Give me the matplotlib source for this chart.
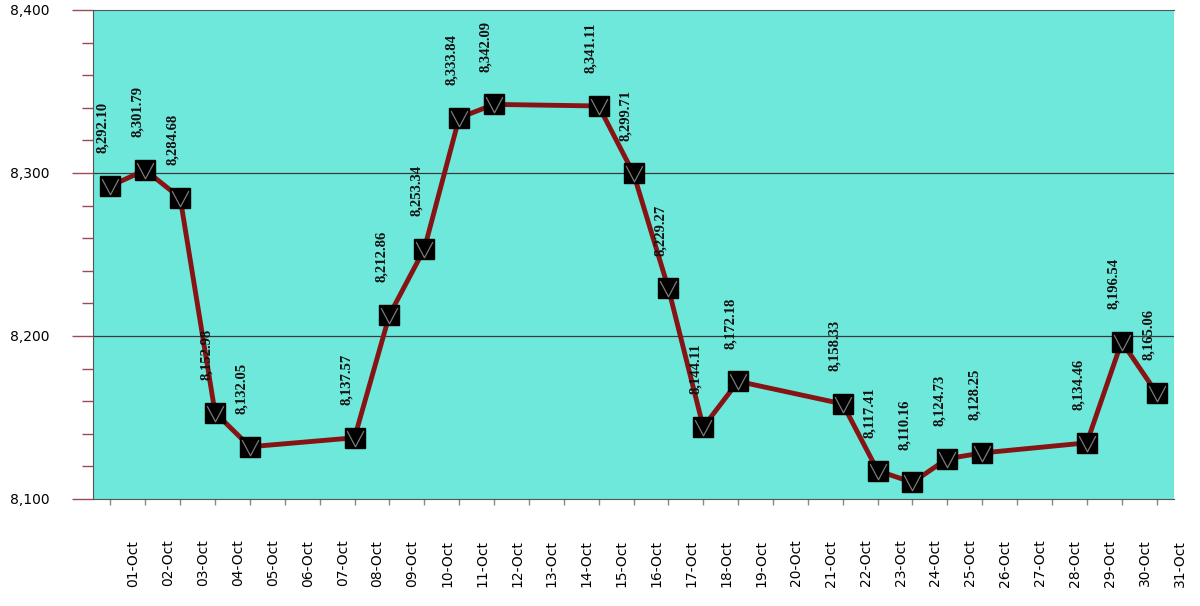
import numpy as np
import matplotlib.pyplot as plt
from matplotlib.path import Path
from matplotlib.transforms import ScaledTranslation
from matplotlib.ticker import MultipleLocator, FuncFormatter

# trading days in October and closing values
days = [1, 2, 3, 4, 5, 8, 9, 10, 11, 12, 15, 16, 17, 18, 19,
        22, 23, 24, 25, 26, 29, 30, 31]
values = [8292.10, 8301.79, 8284.68, 8152.98, 8132.05,
          8137.57, 8212.86, 8253.34, 8333.84, 8342.09,
          8341.11, 8299.71, 8229.27, 8144.11, 8172.18,
          8158.33, 8117.41, 8110.16, 8124.73, 8128.25,
          8134.46, 8196.54, 8165.06]
tick_days = list(range(1, 32))
tick_labels = ['%02d-Oct' % d for d in tick_days]

fig = plt.figure(figsize=(12.0, 6.06), dpi=100)
ax = fig.add_axes([93 / 1200, 1 - 499 / 606, (1174 - 93) / 1200, (499 - 10) / 606])
ax.set_facecolor('#6ee8da')

ax.set_xlim(0.5, 31.5)
ax.set_ylim(8100, 8400)

# horizontal grid lines
for yv in [8200, 8300]:
    ax.axhline(yv, color='#3a3a3a', lw=0.9, zorder=1)

ax.plot(days, values, color='#861414', lw=3.5, zorder=2)
ax.plot(days, values, ls='none', marker='s', markersize=14.8,
        markerfacecolor='black', markeredgecolor='black', zorder=3)
vmark = Path([(-0.36, 0.32), (0, -0.36), (0.36, 0.32)],
             [Path.MOVETO, Path.LINETO, Path.LINETO])
ax.plot(days, values, ls='none', marker=vmark, markersize=12,
        markerfacecolor='none', markeredgecolor='#7a7a7a', markeredgewidth=0.9, zorder=4)

for d, v in zip(days, values):
    ax.annotate('{:,.2f}'.format(v), xy=(d, v), xytext=(-5.8, 23.5),
                textcoords='offset points', rotation=90, ha='center', va='bottom',
                fontsize=10.5, fontweight='bold', family='Liberation Serif',
                color='#111111', zorder=5)

# y axis
ax.yaxis.set_major_locator(MultipleLocator(100))
ax.yaxis.set_minor_locator(MultipleLocator(20))
ax.yaxis.set_major_formatter(FuncFormatter(lambda y, p: '{:,.0f}'.format(y)))
ax.tick_params(axis='y', which='major', length=15, width=1, color='#9a4a5a',
               pad=16, labelsize=10)
ax.tick_params(axis='y', which='minor', length=8, width=1, color='#9a4a5a')

# x axis
ax.set_xticks(tick_days)
ax.set_xticklabels(tick_labels, rotation=90, fontsize=10)
ax.tick_params(axis='x', which='major', length=4.3, width=1, color='#888888', pad=25)
shift = ScaledTranslation(0.23, 0, fig.dpi_scale_trans)
for lbl in ax.get_xticklabels():
    lbl.set_transform(lbl.get_transform() + shift)

ax.spines['right'].set_visible(False)
ax.spines['top'].set_color('#555555')
ax.spines['left'].set_color('#555555')
ax.spines['bottom'].set_color('#555555')

fig.savefig('out.png', dpi=100)
